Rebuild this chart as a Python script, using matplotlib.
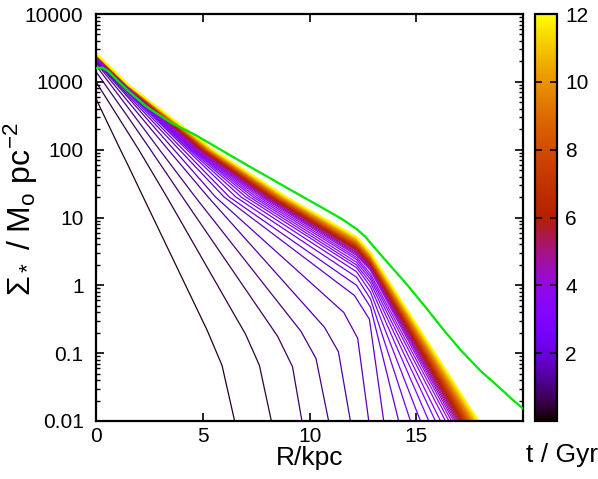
import numpy as np
import matplotlib
matplotlib.use("Agg")
import matplotlib.pyplot as plt
from matplotlib import cm, colors, ticker

# snapshot times (Gyr), one profile per snapshot
t_gyr = [0.25, 0.5, 0.75, 1.0, 1.25, 1.5, 1.75, 2.0, 2.25, 2.5, 2.75, 3.0,
         3.25, 3.5, 3.75, 4.0, 4.25, 4.5, 4.75, 5.0, 5.25, 5.5, 5.75, 6.0,
         6.25, 6.5, 6.75, 7.0, 7.25, 7.5, 7.75, 8.0, 8.25, 8.5, 8.75, 9.0,
         9.25, 9.5, 9.75, 10.0, 10.25, 10.5, 10.75, 11.0, 11.25, 11.5, 11.75, 12.0]

# log10 Sigma at R=0 and at R=1.5 kpc
lg_centre = [2.75, 3.00, 3.15, 3.24, 3.28, 3.30, 3.31, 3.32, 3.33, 3.34, 3.35, 3.35,
             3.36, 3.36, 3.37, 3.37, 3.37, 3.38, 3.38, 3.38, 3.38, 3.39, 3.39, 3.39,
             3.39, 3.39, 3.39, 3.39, 3.40, 3.40, 3.40, 3.40, 3.40, 3.40, 3.40, 3.40,
             3.41, 3.41, 3.41, 3.41, 3.41, 3.41, 3.41, 3.41, 3.42, 3.42, 3.42, 3.42]
lg_r15 = [1.77, 2.25, 2.48, 2.62, 2.71, 2.77, 2.80, 2.83, 2.85, 2.86, 2.87, 2.88,
          2.89, 2.90, 2.91, 2.92, 2.92, 2.93, 2.93, 2.93, 2.93, 2.93, 2.93, 2.94,
          2.94, 2.94, 2.94, 2.94, 2.94, 2.94, 2.94, 2.94, 2.94, 2.95, 2.95, 2.95,
          2.95, 2.95, 2.95, 2.95, 2.95, 2.95, 2.96, 2.96, 2.96, 2.96, 2.96, 2.96]

# radius (kpc) where Sigma = 100 and Sigma = 20
r_100 = [1.14, 2.00, 2.55, 2.97, 3.38, 3.65, 3.90, 4.08, 4.25, 4.35, 4.43, 4.50,
         4.55, 4.60, 4.64, 4.67, 4.73, 4.79, 4.83, 4.87, 4.90, 4.93, 4.96, 4.98,
         5.00, 5.03, 5.05, 5.07, 5.09, 5.11, 5.13, 5.16, 5.18, 5.20, 5.22, 5.24,
         5.26, 5.28, 5.30, 5.32, 5.34, 5.36, 5.39, 5.41, 5.43, 5.45, 5.47, 5.49]
r_20 = [2.21, 3.32, 4.05, 4.65, 5.25, 5.60, 6.00, 6.25, 6.55, 6.80, 7.02, 7.20,
        7.36, 7.50, 7.64, 7.76, 7.85, 7.93, 7.99, 8.05, 8.09, 8.14, 8.18, 8.22,
        8.24, 8.28, 8.31, 8.34, 8.37, 8.40, 8.43, 8.47, 8.49, 8.52, 8.56, 8.59,
        8.62, 8.64, 8.68, 8.71, 8.74, 8.76, 8.80, 8.83, 8.86, 8.88, 8.92, 8.95]

# start of the break (shoulder) and end of the bend (knee)
r_shoulder = [5.20, 7.00, 8.50, 9.60, 10.70, 11.60, 12.10, 12.20, 12.20, 12.20, 12.20, 12.20,
              12.20, 12.20, 12.20, 12.20, 12.20, 12.20, 12.20, 12.20, 12.20, 12.20, 12.20, 12.20,
              12.20, 12.20, 12.20, 12.20, 12.20, 12.20, 12.20, 12.20, 12.20, 12.20, 12.20, 12.20,
              12.20, 12.20, 12.20, 12.20, 12.20, 12.20, 12.20, 12.20, 12.20, 12.20, 12.20, 12.20]
lg_shoulder = [-0.66, -0.72, -0.75, -0.68, -0.62, -0.40, -0.15, 0.00, 0.12, 0.20, 0.26, 0.30,
               0.34, 0.38, 0.41, 0.44, 0.46, 0.48, 0.49, 0.51, 0.52, 0.53, 0.54, 0.55,
               0.55, 0.56, 0.57, 0.58, 0.58, 0.59, 0.60, 0.61, 0.61, 0.62, 0.63, 0.63,
               0.64, 0.65, 0.66, 0.66, 0.67, 0.68, 0.69, 0.69, 0.70, 0.70, 0.71, 0.72]
r_knee = [5.90, 7.65, 9.20, 10.30, 11.35, 12.25, 12.80, 12.85, 12.85, 12.85, 12.85, 12.85,
          12.85, 12.85, 12.85, 12.85, 12.85, 12.85, 12.85, 12.85, 12.85, 12.85, 12.85, 12.85,
          12.85, 12.85, 12.85, 12.85, 12.85, 12.85, 12.85, 12.85, 12.85, 12.85, 12.85, 12.85,
          12.85, 12.85, 12.85, 12.85, 12.85, 12.85, 12.85, 12.85, 12.85, 12.85, 12.85, 12.85]
lg_knee = [-1.18, -1.18, -1.20, -1.08, -0.98, -0.78, -0.50, -0.32, -0.20, -0.10, -0.02, 0.04,
           0.09, 0.13, 0.17, 0.22, 0.24, 0.26, 0.27, 0.29, 0.30, 0.31, 0.32, 0.32,
           0.33, 0.34, 0.34, 0.35, 0.36, 0.37, 0.37, 0.38, 0.39, 0.39, 0.40, 0.41,
           0.41, 0.42, 0.43, 0.44, 0.44, 0.45, 0.46, 0.46, 0.47, 0.48, 0.48, 0.49]

# radius where Sigma drops to 0.01
r_edge = [6.49, 8.21, 9.64, 10.89, 11.91, 12.77, 13.47, 14.17, 14.72, 15.19, 15.58, 15.89,
          16.13, 16.36, 16.52, 16.64, 16.74, 16.82, 16.89, 16.95, 17.00, 17.05, 17.09, 17.13,
          17.16, 17.20, 17.23, 17.26, 17.30, 17.33, 17.36, 17.40, 17.43, 17.46, 17.50, 17.53,
          17.56, 17.59, 17.63, 17.66, 17.69, 17.72, 17.76, 17.79, 17.82, 17.85, 17.89, 17.92]

# reference profile (green)
r_green = [0.0, 0.3, 0.6, 1.0, 1.5, 2.34, 3.5, 4.69, 7.03, 9.09, 10.5, 11.5, 12.2,
           12.6, 13.0, 13.5, 14.0, 14.56, 15.5, 16.28, 17.06, 18.0, 19.0, 19.41, 20.0]
lg_green = [3.20, 3.21, 3.15, 3.02, 2.87, 2.64, 2.40, 2.21, 1.78, 1.41, 1.16, 0.98, 0.83,
            0.72, 0.57, 0.39, 0.21, 0.01, -0.35, -0.66, -0.95, -1.26, -1.54, -1.66, -1.82]

y_ticks = [0.01, 0.1, 1, 10, 100, 1000, 10000]
y_labels = ["0.01", "0.1", "1", "10", "100", "1000", "10000"]

plt.rcParams["font.family"] = ["Liberation Sans", "DejaVu Sans"]
plt.rcParams["mathtext.fontset"] = "custom"
plt.rcParams["mathtext.rm"] = "Liberation Sans"
plt.rcParams["mathtext.it"] = "Liberation Sans:italic"
plt.rcParams["mathtext.bf"] = "Liberation Sans:bold"

W, H = 598, 479
fig = plt.figure(figsize=(W / 100, H / 100), dpi=100)
ax = fig.add_axes([96 / W, 58 / H, 427 / W, 407 / H])
cax = fig.add_axes([535 / W, 58 / H, 22 / W, 407 / H])

norm = colors.Normalize(vmin=0, vmax=12)
cmap = plt.get_cmap("gnuplot")

for i in range(len(t_gyr)):
    r = np.array([0.0, 1.5, r_100[i], r_20[i], r_shoulder[i], r_knee[i], r_edge[i]])
    lg = np.array([lg_centre[i], lg_r15[i], 2.0, np.log10(20), lg_shoulder[i], lg_knee[i], -2.0])
    order = np.argsort(r)
    ax.plot(r[order], 10 ** lg[order], color=cmap(norm(t_gyr[i])), lw=0.9)

ax.plot(r_green, 10 ** np.array(lg_green), color="#00e600", lw=1.6, zorder=5)

ax.set_yscale("log")
ax.set_xlim(0, 19.99)
ax.set_ylim(0.01, 10000)
ax.set_xticks([0, 5, 10, 15])
ax.xaxis.set_minor_locator(ticker.NullLocator())
ax.set_yticks(y_ticks)
ax.set_yticklabels(y_labels)
ax.yaxis.set_minor_locator(ticker.LogLocator(subs=np.arange(2, 10)))
ax.yaxis.set_minor_formatter(ticker.NullFormatter())
ax.tick_params(which="both", direction="in", top=True, right=True, labelsize=15)
ax.tick_params(which="major", length=6, width=1.2)
ax.tick_params(which="minor", length=3, width=1.0)
ax.tick_params(axis="y", pad=9)
ax.tick_params(axis="x", pad=4)
for s in ax.spines.values():
    s.set_linewidth(1.6)

cb = fig.colorbar(cm.ScalarMappable(norm=norm, cmap=cmap), cax=cax)
cb.set_ticks([2, 4, 6, 8, 10, 12])
cax.tick_params(direction="in", left=True, right=True, length=5, width=1.2,
                labelsize=15, pad=6)
cb.outline.set_linewidth(1.6)

fig.text(21 / W, 1 - 209 / H, r"$\Sigma_*$ / M$_{\rm o}$ pc$^{-2}$", rotation=90,
         ha="center", va="center", fontsize=23)
fig.text(309.5 / W, 1 - 458 / H, "R/kpc", ha="center", va="center", fontsize=19)
fig.text(562 / W, 1 - 455 / H, "t / Gyr", ha="center", va="center", fontsize=19)

fig.savefig("out.png", dpi=100)
